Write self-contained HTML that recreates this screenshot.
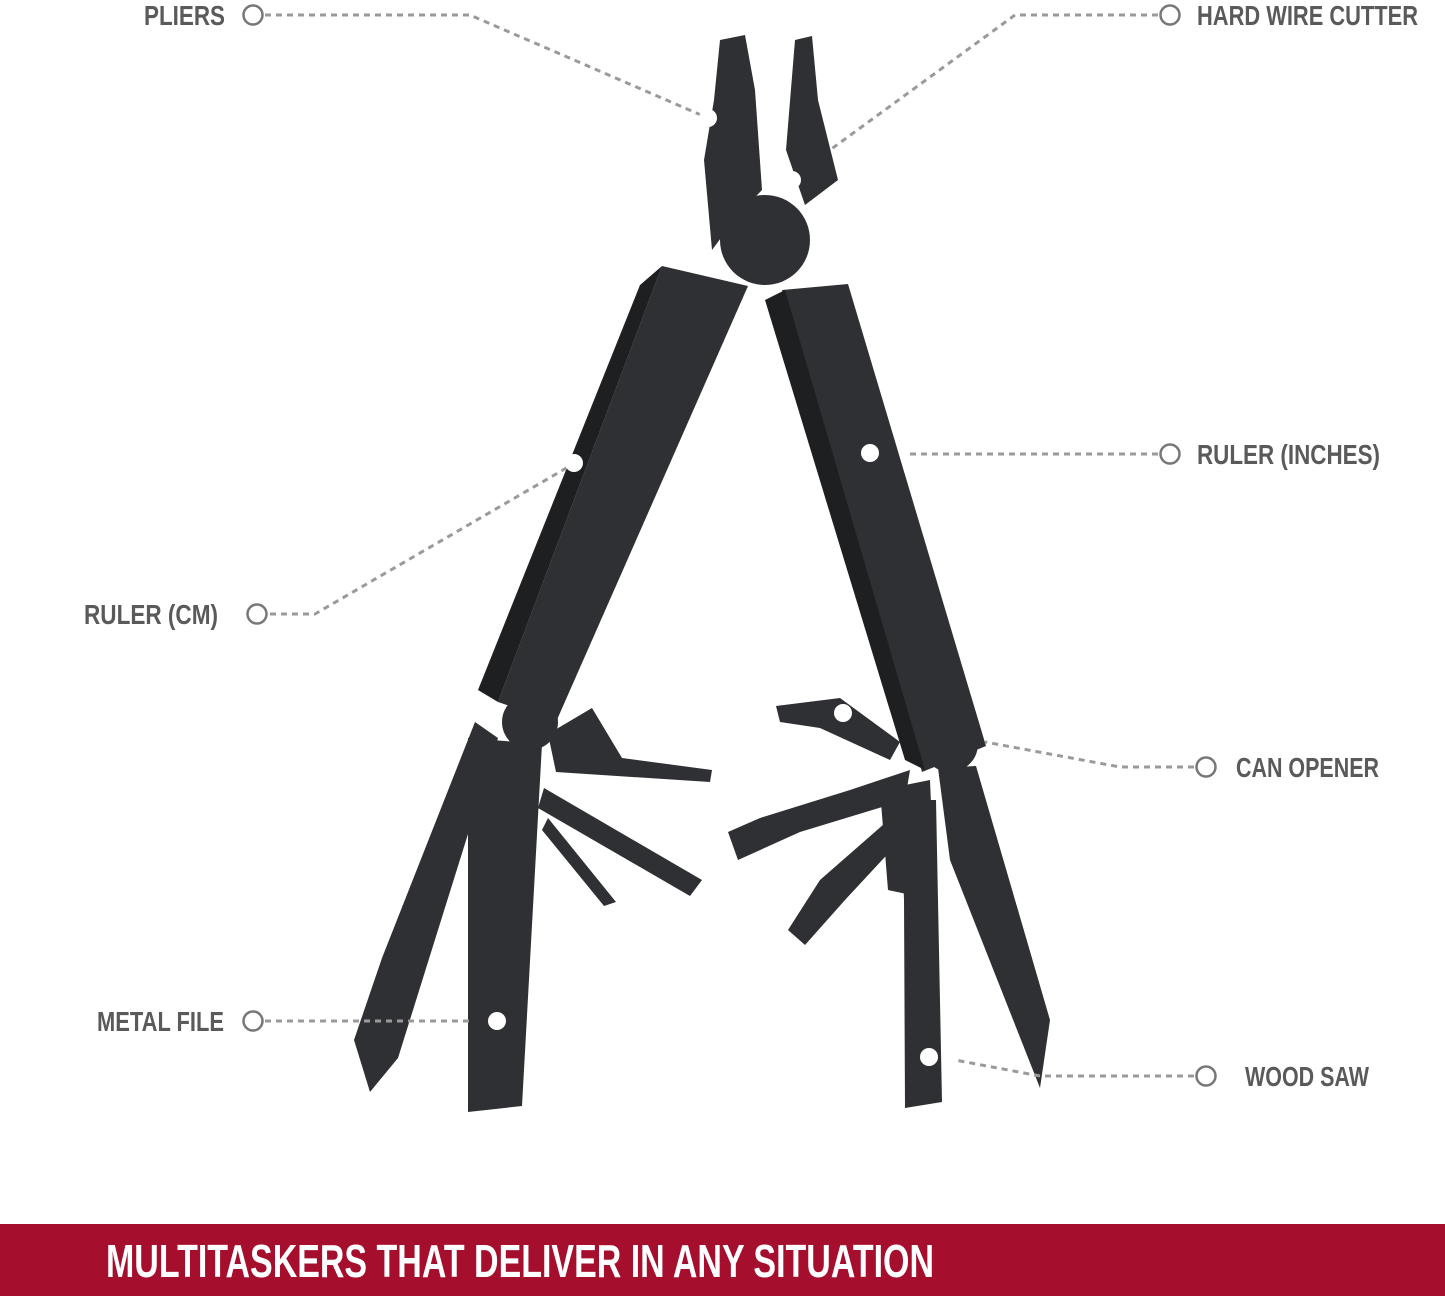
<!DOCTYPE html>
<html><head><meta charset="utf-8"><style>html,body{margin:0;padding:0;background:#fff}svg{display:block}</style></head>
<body>
<svg width="1445" height="1300" viewBox="0 0 1445 1300" xmlns="http://www.w3.org/2000/svg" font-family="Liberation Sans, sans-serif" font-weight="bold">
<rect width="1445" height="1300" fill="#fff"/>
<!-- tool bodies -->
<g fill="#2f3033">
<!-- pliers jaws -->
<polygon points="720,40 745,35 755,90 762,190 738,215 712,250 704,160 714,100"/>
<polygon points="795,40 812,36 818,100 838,180 805,205 786,150"/>
<circle cx="765" cy="240" r="45"/>
<!-- left handle -->
<polygon points="662,266 748,286 556,722 498,702"/>
<polygon points="640,285 662,266 498,702 478,690" fill="#1e1f21"/>
<!-- right handle -->
<polygon points="782,290 848,284 986,746 922,772"/>
<polygon points="765,300 785,290 925,770 905,760" fill="#1e1f21"/>
<!-- left lower tools -->
<polygon points="475,722 498,738 398,1058 370,1092 354,1040 382,958"/>
<polygon points="468,738 542,744 522,1106 468,1112"/>
<polygon points="548,734 592,708 622,758 712,770 710,782 556,772"/>
<polygon points="544,788 702,880 690,896 538,808"/>
<polygon points="548,818 616,902 604,906 542,830"/>
<circle cx="530" cy="722" r="28"/>
<!-- right lower tools -->
<polygon points="938,768 976,766 1050,1020 1040,1088 950,860"/>
<polygon points="900,800 936,800 942,1102 905,1108 904,900"/>
<polygon points="776,706 840,698 900,742 890,760 820,728 780,722"/>
<polygon points="728,832 760,818 850,790 910,770 905,800 800,832 738,860"/>
<polygon points="788,930 820,880 900,810 910,830 845,900 805,945"/>
<polygon points="880,790 930,780 935,900 888,890"/>
<circle cx="950" cy="744" r="28"/>
</g>
<!-- connectors -->
<g fill="none" stroke="#9a9a9a" stroke-width="3" stroke-dasharray="6 5">
<polyline points="265,15 470,15 708,118"/>
<polyline points="1158,15 1015,15 830,150"/>
<polyline points="1158,454 905,454"/>
<polyline points="270,614 315,614 575,463"/>
<polyline points="1194,767 1120,767 985,742"/>
<polyline points="265,1021 470,1021"/>
<polyline points="1194,1076 1040,1076 955,1060"/>
</g>
<g fill="#fff" stroke="#777" stroke-width="2.5">
<circle cx="253" cy="15" r="9.5"/><circle cx="1170" cy="15" r="9.5"/>
<circle cx="1170" cy="454" r="9.5"/><circle cx="257" cy="614" r="9.5"/>
<circle cx="1206" cy="767" r="9.5"/><circle cx="253" cy="1021" r="9.5"/>
<circle cx="1206" cy="1076" r="9.5"/>
</g>
<g fill="#fff">
<circle cx="708" cy="118" r="9"/><circle cx="792" cy="180" r="9"/>
<circle cx="870" cy="453" r="9"/><circle cx="574" cy="463" r="9"/>
<circle cx="843" cy="713" r="9"/><circle cx="497" cy="1021" r="9"/>
<circle cx="929" cy="1057" r="9"/>
</g>
<g fill="#5a5a5a" font-size="28">
<text x="144" y="25" textLength="81" lengthAdjust="spacingAndGlyphs">PLIERS</text>
<text x="1197" y="25" textLength="221" lengthAdjust="spacingAndGlyphs">HARD WIRE CUTTER</text>
<text x="1197" y="464" textLength="183" lengthAdjust="spacingAndGlyphs">RULER (INCHES)</text>
<text x="84" y="624" textLength="134" lengthAdjust="spacingAndGlyphs">RULER (CM)</text>
<text x="1236" y="777" textLength="143" lengthAdjust="spacingAndGlyphs">CAN OPENER</text>
<text x="97" y="1031" textLength="127" lengthAdjust="spacingAndGlyphs">METAL FILE</text>
<text x="1245" y="1086" textLength="124" lengthAdjust="spacingAndGlyphs">WOOD SAW</text>
</g>
<rect x="0" y="1224" width="1445" height="72" fill="#a50f2d"/>
<text x="106" y="1277" fill="#fff" font-size="46" textLength="828" lengthAdjust="spacingAndGlyphs">MULTITASKERS THAT DELIVER IN ANY SITUATION</text>
</svg>
</body></html>
